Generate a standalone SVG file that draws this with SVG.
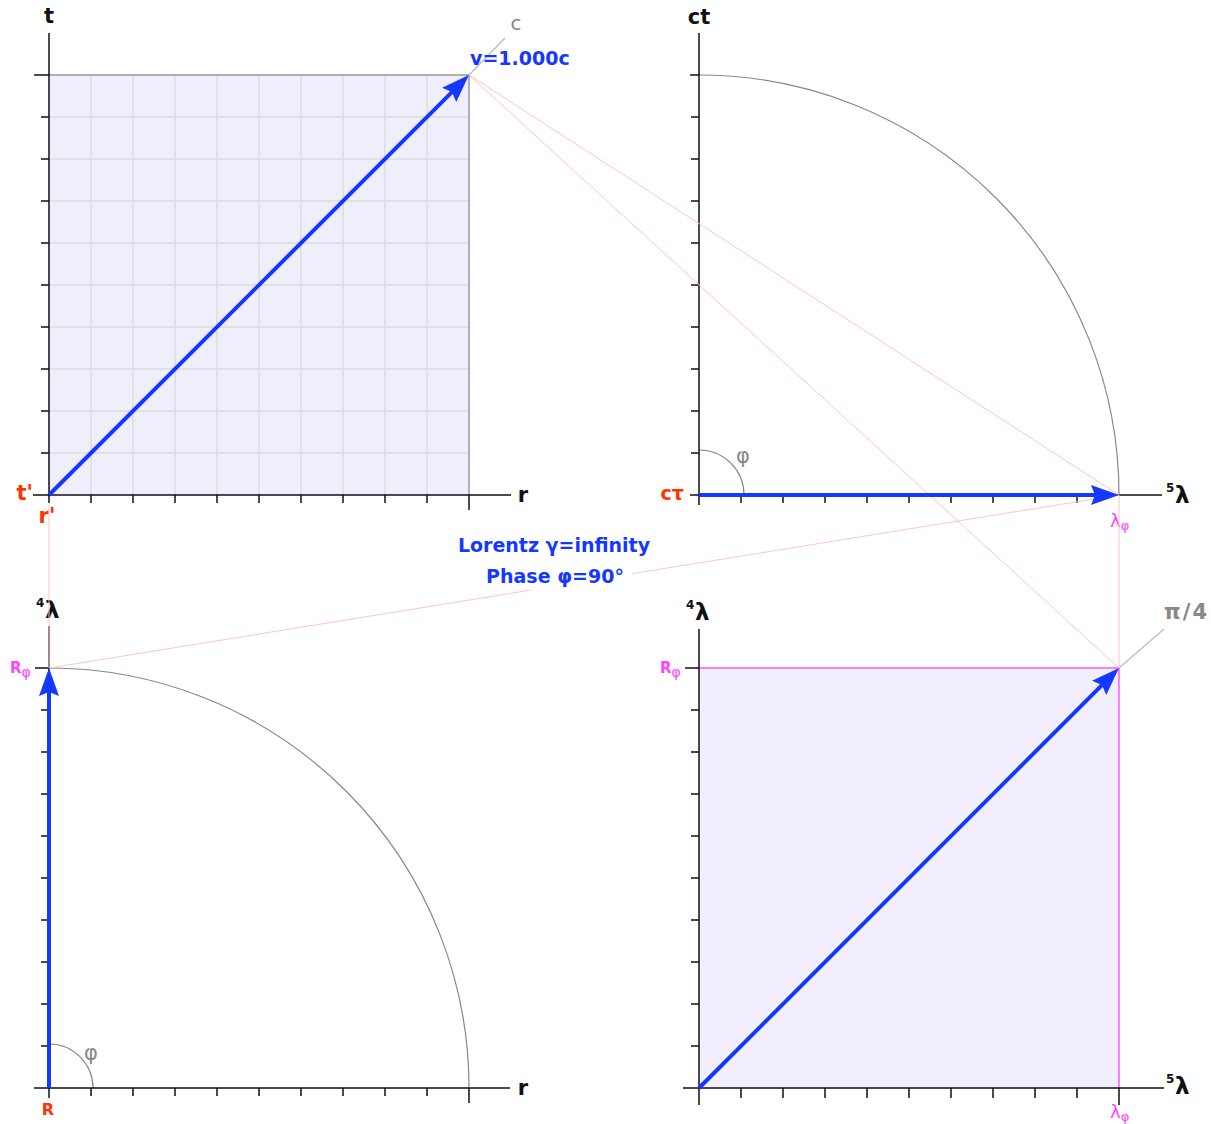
<svg xmlns="http://www.w3.org/2000/svg" width="1211" height="1124" viewBox="0 0 1211 1124">
<defs>
<marker id="ah" viewBox="0 0 28 20" markerWidth="28" markerHeight="20" refX="18" refY="10" markerUnits="userSpaceOnUse" orient="auto">
<path d="M0,0 L28,10 L0,20 L4,10 z" fill="#1438ff"/>
</marker>
<style>
.ax{stroke:#111;stroke-width:1.5;fill:none}
.grid{stroke:#dddddd;stroke-width:1.5;fill:none}
.arc{stroke:#888;stroke-width:1.2;fill:none}
.pink{stroke:#ffc4c4;stroke-width:1;fill:none}
.vec{stroke:#1438ff;stroke-width:4;fill:none;marker-end:url(#ah)}
.lbl{font-family:"DejaVu Sans",sans-serif;font-weight:bold;fill:#111}
.red{font-family:"DejaVu Sans",sans-serif;font-weight:bold;fill:#ff3300}
.mag{font-family:"DejaVu Sans",sans-serif;fill:#ff44ff}
.gray{font-family:"DejaVu Sans",sans-serif;fill:#888}
.blue{font-family:"DejaVu Sans",sans-serif;font-weight:bold;font-size:19px;fill:#1438ff}
</style>
</defs>
<rect width="1211" height="1124" fill="#fff"/>

<g id="panel-tl">
<rect x="49" y="75" width="420" height="420" fill="#eeeefc"/>
<path class="grid" d="M91,75V495M133,75V495M175,75V495M217,75V495M259,75V495M301,75V495M343,75V495M385,75V495M427,75V495M49,117H469M49,159H469M49,201H469M49,243H469M49,285H469M49,327H469M49,369H469M49,411H469M49,453H469"/>
<path d="M49,75H469V495" stroke="#999" stroke-width="1.5" fill="none"/>
<path class="ax" d="M49,33V503M33,495H511M34,75H49M41,117H49M41,159H49M41,201H49M41,243H49M41,285H49M41,327H49M41,369H49M41,411H49M41,453H49M91,495V503M133,495V503M175,495V503M217,495V503M259,495V503M301,495V503M343,495V503M385,495V503M427,495V503M469,495V510"/>
<path d="M469,75L505,38" stroke="#bbb" stroke-width="1.2"/>
<text class="lbl" x="49" y="23" font-size="21" text-anchor="middle">t</text>
<text class="lbl" x="523" y="502" font-size="21" text-anchor="middle">r</text>
<text class="red" x="33" y="500" font-size="21" text-anchor="end">t'</text>
<text class="red" x="47" y="523" font-size="21" text-anchor="middle">r'</text>
<text class="gray" x="516" y="30" font-size="20" text-anchor="middle">c</text>
<text class="blue" x="470" y="65">v=1.000c</text>
</g>

<g id="panel-tr">
<path class="arc" d="M699,75A420,420 0 0 1 1119,495"/>
<path class="arc" d="M699,450A45,45 0 0 1 744,495"/>
<path class="ax" d="M699,33V505M690,495H1162M690,75H699M691,117H699M691,159H699M691,201H699M691,243H699M691,285H699M691,327H699M691,369H699M691,411H699M691,453H699M741,495V503M783,495V503M825,495V503M867,495V503M909,495V503M951,495V503M993,495V503M1035,495V503M1077,495V503"/>
<text class="lbl" x="699" y="24" font-size="21" text-anchor="middle">ct</text>
<text class="red" x="684" y="500" font-size="19" text-anchor="end">cτ</text>
<text class="gray" x="743" y="463" font-size="21" text-anchor="middle">φ</text>
<text class="lbl" x="1166" y="492" font-size="12">5</text>
<text class="lbl" x="1175" y="503" font-size="23">λ</text>
<text class="mag" x="1110" y="527" font-size="18">λ<tspan font-size="13" dy="3">φ</tspan></text>
</g>

<g id="panel-bl">
<path class="arc" d="M49,668A420,420 0 0 1 469,1088"/>
<path class="arc" d="M49,1044A44,44 0 0 1 93,1088"/>
<path class="ax" d="M49,626V1098M34,1088H510M35,668H49M41,710H49M41,752H49M41,794H49M41,836H49M41,878H49M41,920H49M41,962H49M41,1004H49M41,1046H49M91,1088V1096M133,1088V1096M175,1088V1096M217,1088V1096M259,1088V1096M301,1088V1096M343,1088V1096M385,1088V1096M427,1088V1096M469,1088V1103"/>
<text class="lbl" x="36" y="607" font-size="12">4</text>
<text class="lbl" x="45" y="618" font-size="23">λ</text>
<text class="mag" x="10" y="673" font-size="15" font-weight="bold">R<tspan font-size="14" dy="4" font-weight="normal">φ</tspan></text>
<text class="red" x="48" y="1115" font-size="16" text-anchor="middle">R</text>
<text class="gray" x="91" y="1060" font-size="21" text-anchor="middle">φ</text>
<text class="lbl" x="523" y="1095" font-size="21" text-anchor="middle">r</text>
</g>

<g id="panel-br">
<rect x="699" y="668" width="420" height="420" fill="#f1eefd"/>
<path d="M699,668H1119V1088" stroke="#ff55ff" stroke-width="1.5" fill="none"/>
<path class="ax" d="M699,629V1105M683,1088H1164M685,668H699M691,710H699M691,752H699M691,794H699M691,836H699M691,878H699M691,920H699M691,962H699M691,1004H699M691,1046H699M741,1088V1098M783,1088V1098M825,1088V1098M867,1088V1098M909,1088V1098M951,1088V1098M993,1088V1098M1035,1088V1098M1077,1088V1098M1119,1088V1105"/>
<path d="M1119,668L1164,629" stroke="#bbb" stroke-width="1.2"/>
<text class="lbl" x="686" y="609" font-size="12">4</text>
<text class="lbl" x="695" y="620" font-size="23">λ</text>
<text class="mag" x="660" y="673" font-size="15" font-weight="bold">R<tspan font-size="14" dy="4" font-weight="normal">φ</tspan></text>
<text class="gray" x="1164" y="619" font-size="21" font-weight="bold" textLength="43">π/4</text>
<text class="lbl" x="1166" y="1083" font-size="12">5</text>
<text class="lbl" x="1175" y="1094" font-size="23">λ</text>
<text class="mag" x="1110" y="1118" font-size="18">λ<tspan font-size="13" dy="3">φ</tspan></text>
</g>

<g id="connectors">
<path class="pink" d="M469,75L1119,495M469,75L1119,668M49,505V668M49,668L1119,495M1119,495V668"/>
<path class="vec" d="M49,495L461.9,82.1"/>
<path class="vec" d="M699,495H1109"/>
<path class="vec" d="M49,1088V678"/>
<path class="vec" d="M699,1088L1111.9,675.1"/>
</g>

<g id="info">
<rect x="481" y="566" width="151" height="24" fill="#fff"/>
<text class="blue" x="554" y="552" text-anchor="middle">Lorentz γ=infinity</text>
<text class="blue" x="555" y="583" text-anchor="middle">Phase φ=90°</text>
</g>
</svg>
